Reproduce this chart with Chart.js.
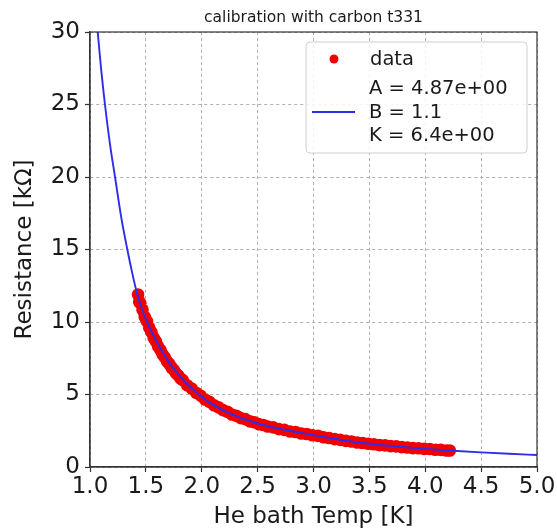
<!DOCTYPE html>
<html>
<head>
<meta charset="utf-8">
<script src="https://cdn.jsdelivr.net/npm/chart.js@4/dist/chart.umd.min.js"></script>
<style>
  html, body { margin: 0; padding: 0; background: #fff; }
  #c { display: block; }
</style>
</head>
<body>
<canvas id="c" width="557" height="531"></canvas>
<script>
'use strict';
// calibration with carbon t331 — R(T) of the carbon sensor vs He bath temperature, with fit curve.

const TITLE = 'calibration with carbon t331';
const X_LABEL = 'He bath Temp [K]';
const Y_LABEL = 'Resistance [kΩ]';
const LEGEND_DATA = 'data';
const LEGEND_FIT = ['A = 4.87e+00', 'B = 1.1', 'K = 6.4e+00'];

// measured points (T in K, R in kΩ)
const dataT = [1.43, 1.44, 1.45, 1.47, 1.49, 1.51, 1.53, 1.55, 1.57, 1.59, 1.61, 1.63, 1.65, 1.67, 1.69, 1.71, 1.73, 1.75, 1.77, 1.79,
  1.81, 1.83, 1.87, 1.91, 1.95, 1.99, 2.03, 2.07, 2.11, 2.15, 2.19, 2.23, 2.27, 2.31, 2.35, 2.39, 2.43, 2.47, 2.51, 2.55,
  2.59, 2.64, 2.69, 2.74, 2.79, 2.84, 2.89, 2.94, 2.99, 3.04, 3.09, 3.14, 3.19, 3.24, 3.29, 3.34, 3.39, 3.44, 3.49, 3.54,
  3.59, 3.64, 3.69, 3.74, 3.79, 3.84, 3.89, 3.94, 3.99, 4.04, 4.09, 4.14, 4.19, 4.22];
const dataR = [11.9, 11.4, 11.3, 10.85, 10.35, 10.05, 9.6, 9.3, 8.9, 8.65, 8.3, 8.07, 7.76, 7.56, 7.28, 7.1, 6.85, 6.7, 6.46, 6.32,
  6.1, 5.99, 5.64, 5.41, 5.12, 4.92, 4.66, 4.49, 4.26, 4.12, 3.92, 3.81, 3.62, 3.53, 3.37, 3.3, 3.15, 3.09, 2.96, 2.9,
  2.79, 2.73, 2.61, 2.56, 2.45, 2.41, 2.31, 2.28, 2.19, 2.15, 2.05, 2.0, 1.92, 1.87, 1.8, 1.76, 1.69, 1.66, 1.6, 1.57,
  1.51, 1.49, 1.44, 1.42, 1.37, 1.35, 1.3, 1.29, 1.25, 1.24, 1.19, 1.18, 1.14, 1.14];

// fit curve
const fitT = [1.069, 1.10, 1.134, 1.18, 1.224, 1.28, 1.334, 1.38, 1.42, 1.46, 1.51, 1.6, 1.7, 1.8, 1.9, 2.0, 2.1, 2.25,
  2.5, 2.75, 3.0, 3.25, 3.5, 3.75, 4.0, 4.25, 4.5, 4.75, 5.0];
const fitR = [30, 27.4, 25, 22.2, 20, 17.2, 15, 13.3, 12.0, 11.0, 10.0, 8.6, 7.3, 6.3, 5.5, 4.85, 4.3, 3.7,
  3.0, 2.55, 2.2, 1.86, 1.6, 1.41, 1.25, 1.12, 1.01, 0.91, 0.83];

const xTicks = [1.0, 1.5, 2.0, 2.5, 3.0, 3.5, 4.0, 4.5, 5.0];
const yTicks = [0, 5, 10, 15, 20, 25, 30];

const FONT = "'DejaVu Sans', sans-serif";
const RED = 'rgb(240,0,0)';
const BLUE = 'rgb(45,45,235)';
const INK = '#1a1a1a';
const pts = (xs, ys) => xs.map((x, i) => ({ x, y: ys[i] }));

// box + title + legend drawn by hand (matplotlib look)
const decor = {
  id: 'decor',
  afterDatasetsDraw(chart) {
    const { ctx, chartArea: a } = chart;
    ctx.save();
    ctx.strokeStyle = '#333'; ctx.lineWidth = 1.2;
    ctx.strokeRect(a.left, a.top, a.right - a.left, a.bottom - a.top);
    ctx.restore();
  },
  afterDraw(chart) {
    const { ctx, chartArea: a } = chart;
    ctx.save();
    ctx.fillStyle = INK;
    ctx.font = `15.5px ${FONT}`;
    ctx.textAlign = 'center'; ctx.textBaseline = 'middle';
    ctx.fillText(TITLE, (a.left + a.right) / 2, 18);

    // legend box
    const bx = 306, by = 42, bw = 221, bh = 111, r = 4;
    ctx.beginPath();
    ctx.moveTo(bx + r, by); ctx.arcTo(bx + bw, by, bx + bw, by + bh, r); ctx.arcTo(bx + bw, by + bh, bx, by + bh, r);
    ctx.arcTo(bx, by + bh, bx, by, r); ctx.arcTo(bx, by, bx + bw, by, r); ctx.closePath();
    ctx.fillStyle = 'rgba(255,255,255,0.85)'; ctx.fill();
    ctx.strokeStyle = '#d0d0d0'; ctx.lineWidth = 1; ctx.stroke();

    ctx.fillStyle = RED;
    ctx.beginPath(); ctx.arc(334, 59, 4.5, 0, Math.PI * 2); ctx.fill();
    ctx.strokeStyle = BLUE; ctx.lineWidth = 1.8;
    ctx.beginPath(); ctx.moveTo(312, 112); ctx.lineTo(355, 112); ctx.stroke();

    ctx.fillStyle = INK; ctx.font = `19.5px ${FONT}`;
    ctx.textAlign = 'left'; ctx.textBaseline = 'middle';
    ctx.fillText(LEGEND_DATA, 370, 60);
    LEGEND_FIT.forEach((t, i) => ctx.fillText(t, 369, 89 + i * 23.5));
    ctx.restore();
  },
};

new Chart(document.getElementById('c'), {
  data: {
    datasets: [
      { type: 'scatter', label: LEGEND_DATA, data: pts(dataT, dataR), backgroundColor: RED, borderColor: RED, pointRadius: 6.3, pointBorderWidth: 0, borderWidth: 0, order: 2 },
      { type: 'line', label: 'fit', data: pts(fitT, fitR), borderColor: BLUE, borderWidth: 1.9, pointRadius: 0, cubicInterpolationMode: 'monotone', fill: false, order: 1 },
    ],
  },
  options: {
    responsive: false, animation: false, events: [],
    layout: { padding: { top: 32, right: 20, left: 0, bottom: 0 } },
    plugins: { legend: { display: false }, title: { display: false }, tooltip: { enabled: false } },
    scales: {
      x: {
        type: 'linear', min: 1, max: 5,
        afterBuildTicks: s => { s.ticks = xTicks.map(v => ({ value: v })); },
        afterFit: s => { s.height = 64; },
        ticks: { color: INK, font: { family: FONT, size: 23 }, padding: 1, maxRotation: 0, autoSkip: false, callback: v => Number(v).toFixed(1) },
        grid: { color: '#b0b0b0', lineWidth: 1, tickLength: 5, tickColor: '#333', tickWidth: 1.2 },
        border: { display: true, color: '#333', width: 1.2, dash: [3, 3] },
        title: { display: true, text: X_LABEL, color: INK, font: { family: FONT, size: 23 }, padding: { top: 0, bottom: 0 } },
      },
      y: {
        type: 'linear', min: 0, max: 30,
        afterBuildTicks: s => { s.ticks = yTicks.map(v => ({ value: v })); },
        afterFit: s => { s.width = 90; },
        ticks: { color: INK, font: { family: FONT, size: 23 }, padding: 5, autoSkip: false },
        grid: { color: '#b0b0b0', lineWidth: 1, tickLength: 5, tickColor: '#333', tickWidth: 1.2 },
        border: { display: true, color: '#333', width: 1.2, dash: [3, 3] },
        title: { display: true, text: Y_LABEL, color: INK, font: { family: FONT, size: 23 }, padding: { top: 11, bottom: 0 } },
      },
    },
  },
  plugins: [decor],
});
</script>
</body>
</html>
